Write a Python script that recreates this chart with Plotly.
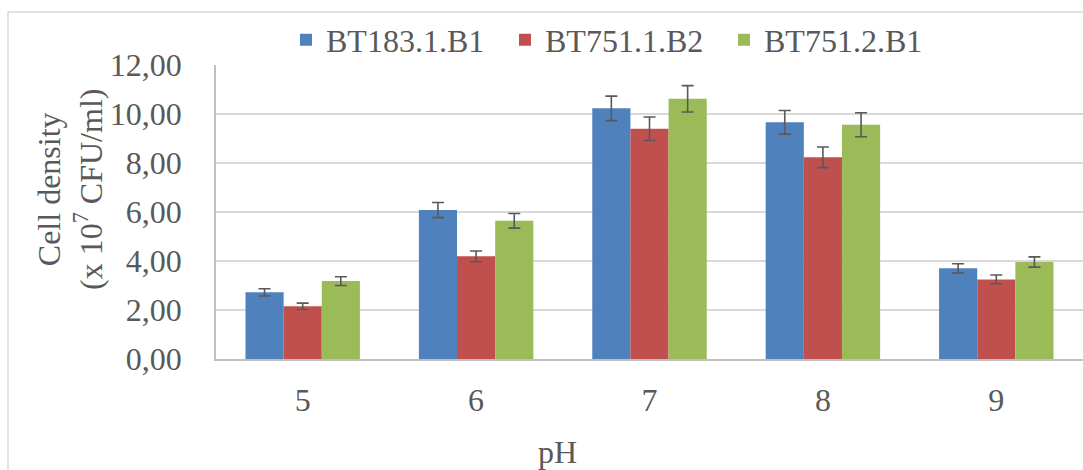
import plotly.graph_objects as go

ph = ["5", "6", "7", "8", "9"]
series_names = ["BT183.1.B1", "BT751.1.B2", "BT751.2.B1"]
bt183_1_b1 = [2.72, 6.08, 10.23, 9.66, 3.70]
bt751_1_b2 = [2.15, 4.19, 9.40, 8.23, 3.25]
bt751_2_b1 = [3.18, 5.64, 10.62, 9.56, 3.96]
err_bt183_1_b1 = [0.15, 0.31, 0.50, 0.48, 0.19]
err_bt751_1_b2 = [0.13, 0.22, 0.48, 0.42, 0.18]
err_bt751_2_b1 = [0.18, 0.30, 0.54, 0.49, 0.21]
y_ticks = [0, 2, 4, 6, 8, 10, 12]

colors = ["#4F81BD", "#C0504D", "#9BBB59"]
values = [bt183_1_b1, bt751_1_b2, bt751_2_b1]
errors = [err_bt183_1_b1, err_bt751_1_b2, err_bt751_2_b1]

font_family = "Liberation Serif"
text_color = "#595959"
FS = 32

# plot area in pixels
L, R, T, B = 216, 0, 65, 111
W, H = 1083, 470
pw, ph_px = W - L - R, H - T - B

def px_x(x):
    return (x - L) / pw

def px_y(y):
    return (H - B - y) / ph_px

fig = go.Figure()
for name, vals, errs, col in zip(series_names, values, errors, colors):
    fig.add_trace(go.Bar(
        x=ph, y=vals, name=name,
        marker=dict(color=col, line=dict(width=0)),
        error_y=dict(type="data", array=errs, visible=True,
                     color="#595959", thickness=1.6, width=6),
    ))

fig.update_layout(
    width=W, height=H,
    margin=dict(l=L, r=R, t=T, b=B, autoexpand=False),
    paper_bgcolor="white", plot_bgcolor="white",
    barmode="group", bargap=0.34, bargroupgap=0,
    separators=",.",
    font=dict(family=font_family, color=text_color, size=FS),
    showlegend=True,
    legend=dict(orientation="h", x=px_x(286), xanchor="left", y=px_y(40), yanchor="middle",
                font=dict(size=FS, color=text_color, family=font_family),
                entrywidth=174, entrywidthmode="pixels",
                traceorder="normal", bgcolor="rgba(0,0,0,0)"),
    xaxis=dict(type="category", showgrid=False, showline=True, linecolor="#BFBFBF",
               linewidth=2, ticks="", ticklabelstandoff=12,
               tickfont=dict(size=FS, color=text_color, family=font_family)),
    yaxis=dict(range=[0, 12], tickvals=y_ticks, tickformat=".2f",
               showgrid=True, gridcolor="#D9D9D9", gridwidth=1.5,
               showline=True, linecolor="#BFBFBF", linewidth=1.5, ticks="",
               ticklabelstandoff=26, zeroline=False,
               tickfont=dict(size=FS, color=text_color, family=font_family)),
    annotations=[
        dict(text="pH", xref="paper", yref="paper", x=px_x(557), y=px_y(452),
             xanchor="center", yanchor="middle", showarrow=False,
             font=dict(size=FS, color=text_color, family=font_family)),
        dict(text="Cell density<br>(x 10<sup>7</sup> CFU/ml)", xref="paper", yref="paper",
             x=px_x(70), y=px_y(190), xanchor="center", yanchor="middle",
             textangle=-90, showarrow=False,
             font=dict(size=FS, color=text_color, family=font_family)),
    ],
    shapes=[dict(type="rect", xref="paper", yref="paper",
                 x0=px_x(8), x1=px_x(1100), y0=px_y(490), y1=px_y(12),
                 line=dict(color="#D9D9D9", width=1.5), fillcolor="rgba(0,0,0,0)",
                 layer="below")],
)

fig.write_html("out.html", config={"displayModeBar": False},
               post_script="document.body.style.margin='0';")
